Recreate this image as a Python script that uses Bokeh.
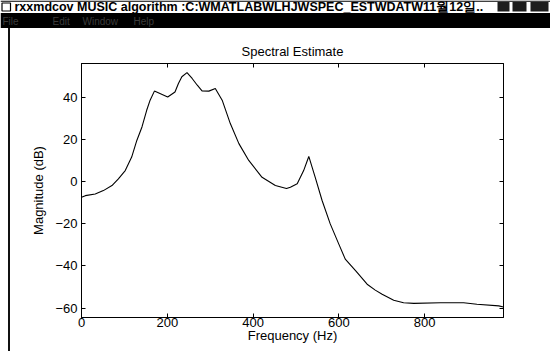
from bokeh.plotting import figure
from bokeh.layouts import column, row
from bokeh.models import LinearAxis, FixedTicker, Range1d, Div
from bokeh.core.properties import value
from bokeh.embed import file_html
from bokeh.resources import INLINE

# ---- data ----
freq_hz = [0, 9, 32, 51, 71, 86, 102, 117, 129, 141, 152, 160, 170, 201, 218, 226,
           234, 246, 258, 270, 281, 297, 312, 328, 347, 367, 390, 421, 452, 478,
           487, 503, 518, 530, 545, 561, 580, 600, 615, 640, 666, 685, 701, 728,
           751, 775, 837, 891, 922, 973, 984]
magnitude_db = [-7.5, -6.7, -5.9, -4.3, -1.9, 1.3, 5.2, 11.6, 19.5, 25.9, 33.8, 38.6,
                42.9, 40.1, 42.5, 46.5, 49.7, 51.7, 48.9, 45.7, 43.0, 42.9, 44.1,
                38.6, 27.5, 18.0, 10.0, 2.0, -1.9, -3.3, -2.7, -1.1, 5.2, 11.9, 2.0,
                -9.0, -20.1, -29.7, -36.8, -42.5, -48.7, -51.5, -53.5, -56.3, -57.5,
                -57.8, -57.5, -57.5, -58.2, -59.0, -59.5]
x_ticks = [0, 200, 400, 600, 800]
y_ticks = [-60, -40, -20, 0, 20, 40]

plot_title = "Spectral Estimate"
x_label = "Frequency (Hz)"
y_label = "Magnitude (dB)"
window_title = "rxxmdcov MUSIC algorithm :C:WMATLABWLHJWSPEC_ESTWDATW11월12일.."
menu_items = ["File", "Edit", "Window", "Help"]

FONT = "Liberation Sans"

# ---------------- window chrome (title bar + menu bar) ----------------
chrome = figure(width=550, height=28, output_backend="svg", toolbar_location=None,
                x_range=Range1d(0, 550), y_range=Range1d(28, 0),
                x_axis_type=None, y_axis_type=None, min_border=0)
chrome.outline_line_color = None
chrome.grid.visible = False
chrome.background_fill_color = "white"
chrome.border_fill_color = "white"
chrome.quad(left=[0], right=[550], top=[0], bottom=[1.2], fill_color="black",
            line_color=None)                                   # top edge
chrome.quad(left=[0], right=[550], top=[12.5], bottom=[28], fill_color="black",
            line_color=None)                                   # menu bar
chrome.quad(left=[1.5], right=[10], top=[2.5], bottom=[10.5], fill_color="white",
            line_color="black", line_width=1.2)                # window icon
chrome.quad(left=[497, 512, 530], right=[509, 526, 548], top=[1.5, 1.5, 1.5],
            bottom=[11, 11, 11], fill_color="#1c1c1c", line_color=None)  # buttons
chrome.text(x=[14], y=[6.8], text=[window_title], text_font=value(FONT),
            text_font_style="bold", text_font_size="12.5px", text_color="black",
            text_baseline="middle", text_align="left")
chrome.text(x=[2, 52, 82, 133], y=[20.5] * 4, text=menu_items, text_font=value(FONT),
            text_font_size="10px", text_color="#3c3c3c", text_baseline="middle",
            text_align="left")

# ---------------- left window border ----------------
strip = Div(width=10, height=323, text="",
            styles={"box-sizing": "border-box", "border-right": "2px solid #111111",
                    "margin": "0", "padding": "0"})

# ---------------- main axes ----------------
p = figure(width=540, height=323, output_backend="svg", toolbar_location=None,
           x_range=Range1d(0, 984), y_range=Range1d(-64.5, 56),
           min_border_left=71, min_border_right=47, min_border_top=35,
           min_border_bottom=34, title=plot_title)
p.background_fill_color = "white"
p.border_fill_color = "white"
p.outline_line_color = "black"
p.outline_line_width = 1
p.xgrid.visible = False
p.ygrid.visible = False

p.title.align = "center"
p.title.text_font = FONT
p.title.text_font_size = "13px"
p.title.text_font_style = "normal"
p.title.text_color = "black"
p.title.standoff = 9

for ax, ticks in ((p.xaxis[0], x_ticks), (p.yaxis[0], y_ticks)):
    ax.ticker = FixedTicker(ticks=ticks)
    ax.major_tick_in = 4
    ax.major_tick_out = 0
    ax.minor_tick_in = 0
    ax.minor_tick_out = 0
    ax.axis_line_color = "black"
    ax.major_tick_line_color = "black"
    ax.major_label_text_font = FONT
    ax.major_label_text_font_size = "13px"
    ax.major_label_text_color = "black"
    ax.axis_label_text_font = FONT
    ax.axis_label_text_font_size = "13px"
    ax.axis_label_text_font_style = "normal"
    ax.axis_label_text_color = "black"

p.xaxis.axis_label = x_label
p.yaxis.axis_label = y_label
p.xaxis.major_label_standoff = 0
p.xaxis.axis_label_standoff = -2
p.yaxis.major_label_standoff = 4
p.yaxis.axis_label_standoff = 6

# box ticks on top and right (no labels)
for loc, ticks in (("above", x_ticks), ("right", y_ticks)):
    ax = LinearAxis(ticker=FixedTicker(ticks=ticks), major_label_text_font_size="1px",
                    major_label_text_color=None, major_label_standoff=0,
                    major_tick_in=4, major_tick_out=0, minor_tick_in=0,
                    minor_tick_out=0, axis_line_color="black",
                    major_tick_line_color="black")
    p.add_layout(ax, loc)

p.line(freq_hz, magnitude_db, line_color="black", line_width=1.1)

layout = column(chrome, row(strip, p))
open("out.html", "w").write(file_html(layout, INLINE))
